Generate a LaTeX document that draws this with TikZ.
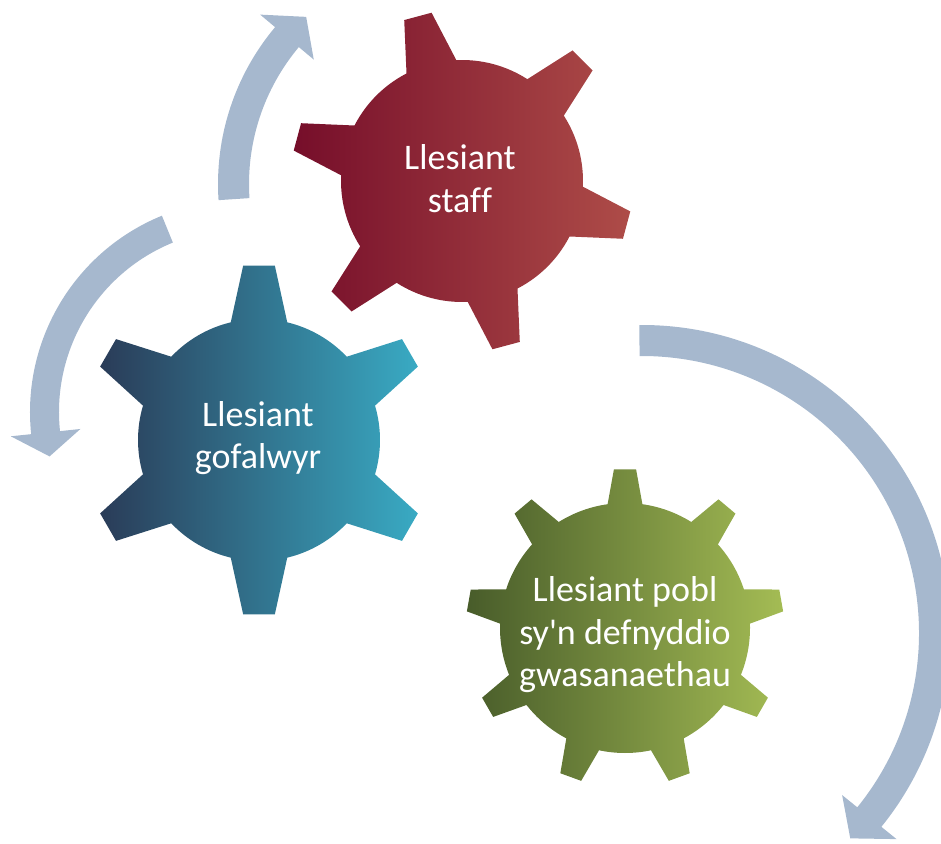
\documentclass[tikz,border=0pt]{standalone}
\usepackage{fontspec}
\setmainfont{Carlito}[Ligatures={TeXOff,NoCommon}]
\definecolor{arrowc}{RGB}{166,184,206}
\definecolor{redL}{RGB}{118,14,42}
\definecolor{redR}{RGB}{174,76,72}
\definecolor{bluL}{RGB}{42,60,88}
\definecolor{bluM}{RGB}{42,122,146}
\definecolor{bluR}{RGB}{57,170,195}
\definecolor{grnL}{RGB}{72,92,42}
\definecolor{grnR}{RGB}{164,188,84}
% #1 first tooth angle, #2 step, #3 count, #4 body radius, #5 outer radius, #6 base half-angle, #7 top half-angle
\newcommand\gearshape[7]{({#1+#6}:#4) \foreach \k in {1,...,#3} { arc[start angle={#1+(\k-1)*#2+#6}, end angle={#1+\k*#2-#6}, radius=#4] -- ({#1+\k*#2-#7}:#5) -- ({#1+\k*#2+#7}:#5) -- ({#1+\k*#2+#6}:#4) } -- cycle}
% #1 start angle, #2 shaft end angle, #3 tip angle, #4 inner radius, #5 outer radius
\newcommand\curvearrow[5]{(#1:#5) arc[start angle=#1, end angle=#2, radius=#5] -- (#2:{(#4+#5)/2+35}) -- (#3:{(#4+#5)/2}) -- (#2:{(#4+#5)/2-35}) -- (#2:#4) arc[start angle=#2, end angle=#1, radius=#4] -- cycle}
\tikzset{
  gtext/.style={text=white, align=center, inner sep=0pt, font=\fontsize{36}{42.5}\selectfont},
  arrowband/.style={fill=arrowc, draw=none}
}
\begin{document}
\begin{tikzpicture}[x=1pt,y=1pt]
\useasboundingbox (0,0) rectangle (941,843);
\clip (0,0) rectangle (941,843);
% circular arrows
\fill[arrowband, shift={(462,659)}] \curvearrow{183.8}{140}{133}{213}{244};
\fill[arrowband, shift={(242,431)}] \curvearrow{112.2}{186}{193}{183}{212};
\fill[arrowband, shift={(642,210)}] \curvearrow{90.5}{-39}{-44.6}{277}{308};
% gears
\shade[left color=redL, right color=redR, shift={(462,662)}] \gearshape{-135}{60}{6}{121}{171}{12.3}{4.75};
\shade[left color=bluL, middle color=bluM, right color=bluR, shift={(259,403)}] \gearshape{-150}{60}{6}{121}{175}{13.5}{5.2};
\shade[left color=grnL, right color=grnR, shift={(625,215)}] \gearshape{-110}{40}{9}{125}{159}{8}{4};
% labels
\node[gtext] (staff) at (460,664.3) {Llesiant\\staf\kern0pt f};
\node[gtext] (carers) at (258,404.8) {Llesiant\\gofalwyr};
\node[gtext] (people) at (625,208.3) {Llesiant pobl\\sy'n defnyddio\\gwasanaethau};
\end{tikzpicture}
\end{document}
